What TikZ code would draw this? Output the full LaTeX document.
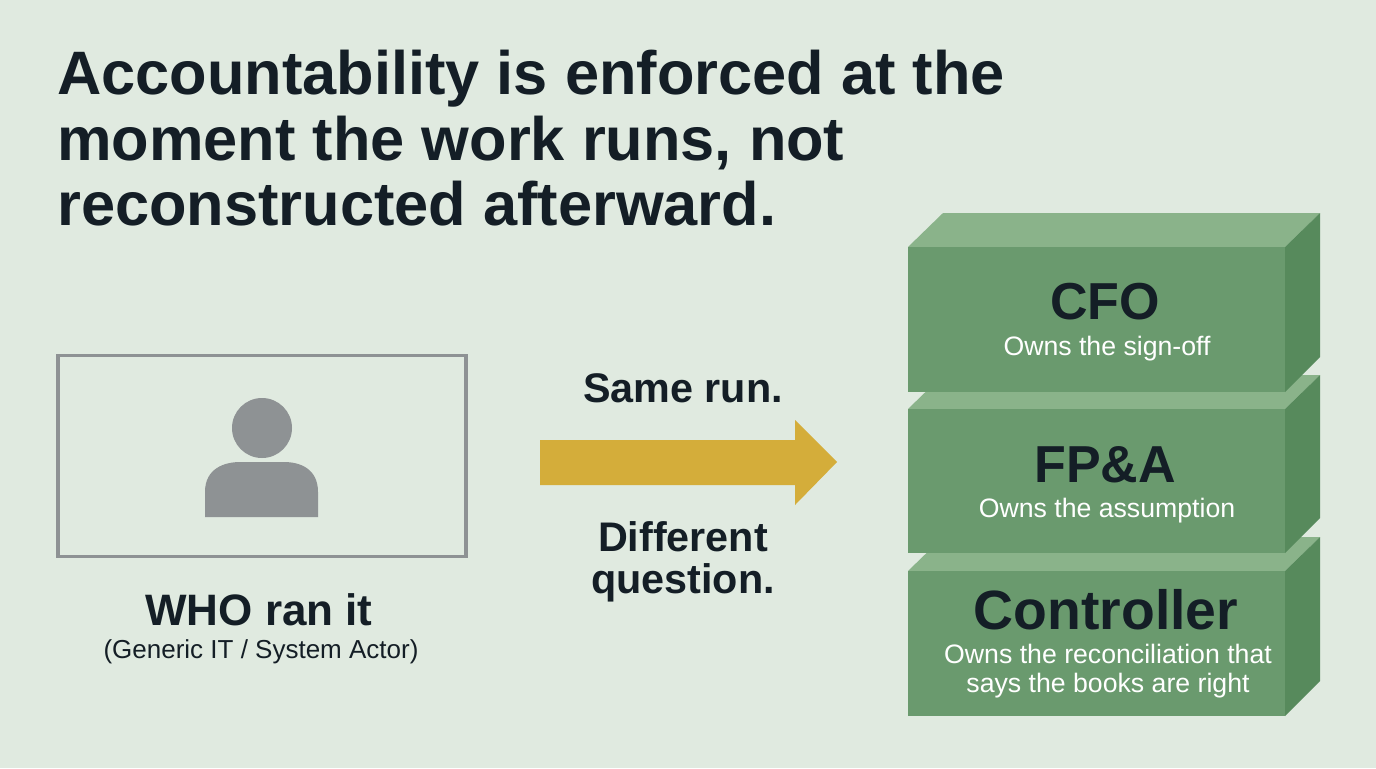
\documentclass[tikz,border=0pt]{standalone}
\usepackage{fontspec}
\setmainfont{Liberation Sans}
\definecolor{bg}{HTML}{E0EAE0}
\definecolor{ink}{HTML}{141E26}
\definecolor{front}{HTML}{6A9A6E}
\definecolor{topc}{HTML}{8AB38A}
\definecolor{side}{HTML}{578A5C}
\definecolor{gold}{HTML}{D4AD3A}
\definecolor{greyp}{HTML}{8E9294}
\begin{document}
\begin{tikzpicture}[x=0.75pt,y=-0.75pt,
  big/.style={font=\fontsize{39}{42}\selectfont\bfseries,text=ink},
  mid/.style={font=\fontsize{31}{31.5}\selectfont\bfseries,text=ink,align=center},
  small/.style={font=\fontsize{20}{22}\selectfont,text=white,align=center}]
\fill[bg] (0,0) rectangle (1376,768);
\useasboundingbox (0,0) rectangle (1376,768);
\node[anchor=north west,font=\fontsize{46}{49}\selectfont\bfseries,text=ink,align=left,inner sep=0] (title) at (57,50)
 {Accountability is enforced at the\\moment the work runs, not\\reconstructed afterward.};
% person
\node[draw=greyp,line width=2.5pt,minimum width=408pt*0.75,minimum height=201pt*0.75,inner sep=0] (frame) at (262,456) {};
\fill[greyp] (262,428) circle (30);
\fill[greyp] (205,517) -- (205,492) .. controls (205,468) and (225,462) .. (240,462) -- (284,462) .. controls (299,462) and (318,468) .. (318,492) -- (318,517) -- cycle;
\node[font=\fontsize{33}{36}\selectfont\bfseries,text=ink] (who) at (259,610) {WHO ran it};
\node[font=\fontsize{19.5}{22}\selectfont,text=ink] (whos) at (261,652) {(Generic IT / System Actor)};
% arrow
\fill[gold] (540,440) -- (795,440) -- (795,420) -- (837,462) -- (795,505) -- (795,485) -- (540,485) -- cycle;
\node[mid] (same) at (683,388) {Same run.};
\node[mid] (diff) at (683,562) {Different\\question.};
% blocks
\foreach \t/\b in {537/716,375/553,213/392}{
  \fill[topc] (908,\t+34) -- (943,\t) -- (1320,\t) -- (1285,\t+34) -- cycle;
  \fill[side] (1285,\t+34) -- (1320,\t) -- (1320,\b-35) -- (1285,\b) -- cycle;
  \fill[front] (908,\t+34) rectangle (1285,\b);
}
\node[big] (cfo) at (1105,302) {CFO};
\node[small] (cfos) at (1107,349) {Owns the sign-off};
\node[big] (fpa) at (1105,465) {FP\&A};
\node[small] (fpas) at (1107,511) {Owns the assumption};
\node[big,font=\fontsize{41.5}{44}\selectfont\bfseries] (ctl) at (1106,610) {Controller};
\node[small,font=\fontsize{20}{21.5}\selectfont] (ctls) at (1108,671) {Owns the reconciliation that\\says the books are right};
\end{tikzpicture}
\end{document}
